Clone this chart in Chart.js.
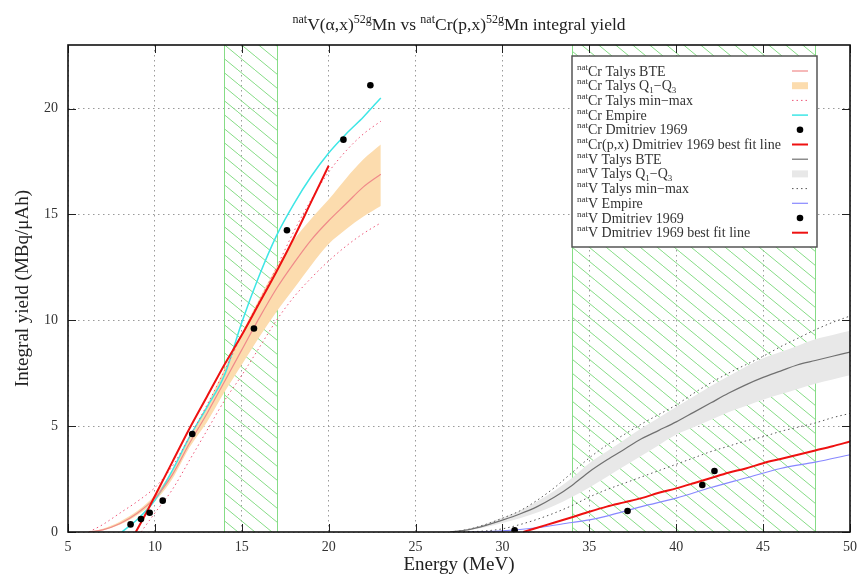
<!DOCTYPE html>
<html><head><meta charset="utf-8">
<script src="https://cdn.jsdelivr.net/npm/chart.js@4/dist/chart.umd.min.js"></script>
<style>html,body{margin:0;padding:0;background:#fff}#wrap{width:864px;height:576px;position:relative}</style>
</head><body><div id="wrap"><canvas id="c" width="864" height="576"></canvas></div>
<script>
// ---------- texts ----------
const titleText = '^{nat}V(α,x)^{52g}Mn vs ^{nat}Cr(p,x)^{52g}Mn integral yield';
const xAxisTitle = 'Energy (MeV)';
const yAxisTitle = 'Integral yield (MBq/μAh)';
const xTickValues = [5, 10, 15, 20, 25, 30, 35, 40, 45, 50];
const yTickValues = [0, 5, 10, 15, 20];
const hatchRanges = [[14, 17], [34, 48]];

// ---------- natCr(p,x) ----------
const crTalysE   = [6.2, 7, 8, 9, 10, 11, 12, 13, 14, 15, 16, 17, 18, 19, 20, 21, 22, 23];
const crTalysBTE = [0, 0.1, 0.4, 0.9, 1.6, 2.7, 4.2, 5.6, 7.1, 8.6, 10.1, 11.5, 12.7, 13.8, 14.7, 15.5, 16.3, 16.9];
const crTalysQ1  = [0, 0.08, 0.35, 0.8, 1.45, 2.5, 4.0, 5.2, 6.6, 7.9, 9.2, 10.4, 11.5, 12.6, 13.6, 14.3, 14.9, 15.4];
const crTalysQ3  = [0, 0.15, 0.5, 1.0, 1.75, 2.9, 4.5, 6.0, 7.7, 9.4, 11.0, 12.5, 13.8, 14.8, 15.7, 16.7, 17.6, 18.3];
const crTalysMax = [0, 0.35, 0.9, 1.45, 2.1, 3.1, 4.5, 6.0, 7.6, 9.3, 10.9, 12.5, 14.2, 15.7, 17.0, 18.0, 18.8, 19.4];
const crMinE     = [9.2, 10, 11, 12, 13, 14, 15, 16, 17, 18, 19, 20, 21, 22, 23];
const crTalysMin = [0, 0.9, 2.0, 3.4, 4.8, 6.2, 7.4, 8.7, 10.0, 11.1, 12.0, 12.8, 13.5, 14.1, 14.6];
const crEmpireE  = [8.1, 9, 10, 11, 12, 13, 14, 15, 16, 17, 18, 19, 20, 21, 22, 23];
const crEmpire   = [0, 0.6, 1.5, 2.9, 4.5, 5.9, 7.4, 9.9, 12.1, 14.0, 15.5, 16.8, 17.9, 18.8, 19.6, 20.5];
const crFitE     = [8.9, 9.5, 10, 11, 12, 13, 14, 15, 16, 17, 18, 19, 20];
const crFit      = [0, 0.9, 1.7, 3.3, 4.9, 6.4, 7.9, 9.3, 10.8, 12.3, 13.9, 15.6, 17.3];
const crExpE     = [8.6, 9.2, 9.7, 10.45, 12.15, 15.7, 17.6, 20.85, 22.4];
const crExp      = [0.36, 0.61, 0.91, 1.48, 4.63, 9.61, 14.25, 18.53, 21.1];

// ---------- natV(alpha,x) ----------
const vTalysE   = [27, 28, 29, 30, 31, 32, 33, 34, 35, 36, 37, 38, 39, 40, 41, 42, 43, 44, 45, 46, 47, 48, 49, 50];
const vTalysBTE = [0, 0.1, 0.3, 0.56, 0.85, 1.2, 1.65, 2.2, 2.85, 3.4, 3.9, 4.4, 4.8, 5.2, 5.65, 6.1, 6.55, 6.95, 7.3, 7.6, 7.9, 8.1, 8.3, 8.5];
const vTalysQ1  = [0, 0.07, 0.22, 0.42, 0.65, 0.92, 1.25, 1.65, 2.1, 2.6, 3.1, 3.6, 4.1, 4.6, 4.95, 5.3, 5.65, 5.95, 6.25, 6.5, 6.75, 7.0, 7.2, 7.4];
const vTalysQ3  = [0, 0.13, 0.38, 0.68, 1.0, 1.45, 1.95, 2.55, 3.25, 3.8, 4.35, 4.9, 5.4, 5.9, 6.4, 6.9, 7.35, 7.8, 8.2, 8.5, 8.8, 9.1, 9.3, 9.5];
const vTalysMax = [0, 0.12, 0.35, 0.65, 1.0, 1.5, 2.1, 2.8, 3.5, 4.1, 4.6, 5.1, 5.55, 6.0, 6.55, 7.05, 7.5, 7.9, 8.3, 8.75, 9.15, 9.55, 9.9, 10.2];
const vMinE     = [27.5, 29, 30, 31, 32, 33, 34, 35, 36, 37, 38, 39, 40, 41, 42, 43, 44, 45, 46, 47, 48, 49, 50];
const vTalysMin = [0, 0.05, 0.15, 0.35, 0.6, 0.9, 1.25, 1.65, 2.0, 2.3, 2.6, 2.9, 3.2, 3.5, 3.8, 4.05, 4.3, 4.5, 4.75, 4.95, 5.15, 5.4, 5.6];
const vEmpireE  = [28, 30, 32, 34, 35, 36, 38, 40, 42, 44, 46, 48, 50];
const vEmpire   = [0, 0.05, 0.2, 0.45, 0.57, 0.75, 1.2, 1.6, 2.1, 2.55, 3.0, 3.3, 3.65];
const vFitE     = [31.2, 32, 33, 34, 35, 36, 37, 38, 39, 40, 41, 42, 43, 44, 45, 46, 47, 48, 49, 50];
const vFit      = [0, 0.2, 0.45, 0.7, 0.96, 1.2, 1.4, 1.6, 1.85, 2.06, 2.3, 2.55, 2.8, 3.0, 3.25, 3.45, 3.65, 3.85, 4.05, 4.27];
const vExpE     = [30.7, 37.2, 41.5, 42.2];
const vExp      = [0.08, 0.99, 2.22, 2.88];

// ---------- helpers ----------
const SERIF = '"Liberation Serif", "Times New Roman", serif';
const pts = (xs, ys) => xs.map((x, i) => ({x, y: ys[i]}));

function parseRich(s) {
  const out = []; const re = /([\^_])\{([^}]*)\}/g; let last = 0, m;
  while ((m = re.exec(s))) {
    if (m.index > last) out.push({t: s.slice(last, m.index), m: 0});
    out.push({t: m[2], m: m[1] === '^' ? 1 : -1});
    last = re.lastIndex;
  }
  if (last < s.length) out.push({t: s.slice(last), m: 0});
  return out;
}
function drawRich(ctx, s, x, y, size, align, color) {
  const segs = parseRich(s);
  const small = Math.round(size * 0.66);
  let w = 0;
  for (const sg of segs) {
    ctx.font = (sg.m ? small : size) + 'px ' + SERIF;
    sg.w = ctx.measureText(sg.t).width; w += sg.w;
  }
  let cx = align === 'center' ? x - w / 2 : x;
  ctx.fillStyle = color; ctx.textBaseline = 'alphabetic'; ctx.textAlign = 'left';
  for (const sg of segs) {
    ctx.font = (sg.m ? small : size) + 'px ' + SERIF;
    const dy = sg.m === 1 ? -size * 0.42 : (sg.m === -1 ? size * 0.22 : 0);
    ctx.fillText(sg.t, cx, y + dy);
    cx += sg.w;
  }
}

function makeHatch(ctx) {
  const w = 17, h = 14;
  const c = document.createElement('canvas'); c.width = w; c.height = h;
  const g = c.getContext('2d');
  g.strokeStyle = '#86dc86'; g.lineWidth = 1;
  for (const dx of [-w, 0, w]) { g.beginPath(); g.moveTo(dx, 0); g.lineTo(dx + w, h); g.stroke(); }
  return ctx.createPattern(c, 'repeat');
}

const C = {
  crBTE: '#f08a8a', crBand: '#fcdcae', crMinMax: '#ee5577', crEmp: '#3ee6e6', fit: '#ee1111',
  vBTE: '#707070', vBand: '#e8e8e8', vMinMax: '#555555', vEmp: '#8888ff', pt: '#000000'
};

const line = (label, data, color, width, extra) => Object.assign({
  type: 'line', label, data, borderColor: color, backgroundColor: color, borderWidth: width,
  pointRadius: 0, fill: false, cubicInterpolationMode: 'monotone', order: 5
}, extra || {});
const band = (label, data, color, fill, legend) => ({
  type: 'line', label, data, borderWidth: 0, borderColor: 'rgba(0,0,0,0)', backgroundColor: color,
  pointRadius: 0, fill, cubicInterpolationMode: 'monotone', order: 10, legend
});
const scatter = (label, data) => ({
  type: 'line', label, data, showLine: false, pointRadius: 3.3, pointBackgroundColor: C.pt,
  pointBorderWidth: 0, borderColor: C.pt, backgroundColor: C.pt, order: 0, legend: 'point'
});

const datasets = [
  band('Cr Q1', pts(crTalysE, crTalysQ1), C.crBand, false, null),
  band('^{nat}Cr Talys Q_{1}−Q_{3}', pts(crTalysE, crTalysQ3), C.crBand, '-1', 'band'),
  band('V Q1', pts(vTalysE, vTalysQ1), C.vBand, false, null),
  band('^{nat}V Talys Q_{1}−Q_{3}', pts(vTalysE, vTalysQ3), C.vBand, '-1', 'band'),
  line('^{nat}Cr Talys BTE', pts(crTalysE, crTalysBTE), C.crBTE, 1.2, {legend: 'line'}),
  line('^{nat}Cr Talys min−max', pts(crTalysE, crTalysMax), C.crMinMax, 1, {borderDash: [1.5, 3], legend: 'line'}),
  line('Cr min', pts(crMinE, crTalysMin), C.crMinMax, 1, {borderDash: [1.5, 3]}),
  line('^{nat}Cr Empire', pts(crEmpireE, crEmpire), C.crEmp, 1.5, {legend: 'line'}),
  scatter('^{nat}Cr Dmitriev 1969', pts(crExpE, crExp)),
  line('^{nat}Cr(p,x) Dmitriev 1969 best fit line', pts(crFitE, crFit), C.fit, 2, {legend: 'line', order: 2}),
  line('^{nat}V Talys BTE', pts(vTalysE, vTalysBTE), C.vBTE, 1.2, {legend: 'line'}),
  line('^{nat}V Talys min−max', pts(vTalysE, vTalysMax), C.vMinMax, 1, {borderDash: [1.5, 3], legend: 'line'}),
  line('V min', pts(vMinE, vTalysMin), C.vMinMax, 1, {borderDash: [1.5, 3]}),
  line('^{nat}V Empire', pts(vEmpireE, vEmpire), C.vEmp, 1.2, {legend: 'line'}),
  scatter('^{nat}V Dmitriev 1969', pts(vExpE, vExp)),
  line('^{nat}V Dmitriev 1969 best fit line', pts(vFitE, vFit), C.fit, 2, {legend: 'line', order: 2})
];
const legendOrder = [
  '^{nat}Cr Talys BTE', '^{nat}Cr Talys Q_{1}−Q_{3}', '^{nat}Cr Talys min−max', '^{nat}Cr Empire',
  '^{nat}Cr Dmitriev 1969', '^{nat}Cr(p,x) Dmitriev 1969 best fit line',
  '^{nat}V Talys BTE', '^{nat}V Talys Q_{1}−Q_{3}', '^{nat}V Talys min−max', '^{nat}V Empire',
  '^{nat}V Dmitriev 1969', '^{nat}V Dmitriev 1969 best fit line'
];

let hatchPattern = null;
const decor = {
  id: 'decor',
  beforeDatasetsDraw(chart) {
    const {ctx, chartArea: a, scales: {x}} = chart;
    if (!hatchPattern) hatchPattern = makeHatch(ctx);
    ctx.save();
    for (const [e0, e1] of hatchRanges) {
      const x0 = Math.round(x.getPixelForValue(e0)) + 0.5, x1 = Math.round(x.getPixelForValue(e1)) + 0.5;
      ctx.fillStyle = hatchPattern;
      ctx.fillRect(x0, a.top, x1 - x0, a.bottom - a.top);
      ctx.strokeStyle = '#86dc86'; ctx.lineWidth = 1;
      ctx.beginPath(); ctx.moveTo(x0, a.top); ctx.lineTo(x0, a.bottom);
      ctx.moveTo(x1, a.top); ctx.lineTo(x1, a.bottom); ctx.stroke();
    }
    ctx.restore();
  },
  afterDraw(chart) {
    const {ctx, chartArea: a, scales: {x, y}} = chart;
    ctx.save();
    // inward ticks
    ctx.strokeStyle = '#222'; ctx.lineWidth = 1; ctx.beginPath();
    const tl = 8;
    for (const v of xTickValues) {
      const px = Math.round(x.getPixelForValue(v)) + 0.5;
      ctx.moveTo(px, a.bottom); ctx.lineTo(px, a.bottom - tl);
      ctx.moveTo(px, a.top); ctx.lineTo(px, a.top + tl);
    }
    for (const v of yTickValues) {
      const py = Math.round(y.getPixelForValue(v)) + 0.5;
      ctx.moveTo(a.left, py); ctx.lineTo(a.left + tl, py);
      ctx.moveTo(a.right, py); ctx.lineTo(a.right - tl, py);
    }
    ctx.stroke();
    // frame
    ctx.strokeStyle = '#111'; ctx.lineWidth = 1.6;
    ctx.strokeRect(a.left, a.top, a.right - a.left, a.bottom - a.top);
    // title
    drawRich(ctx, titleText, (a.left + a.right) / 2, 30, 17.5, 'center', '#222');
    // legend
    const bl = a.right - 278, br = a.right - 33, bt = a.top + 11, bb = a.top + 202;
    ctx.fillStyle = '#fff'; ctx.fillRect(bl, bt, br - bl, bb - bt);
    ctx.strokeStyle = '#555'; ctx.lineWidth = 1.5; ctx.strokeRect(bl, bt, br - bl, bb - bt);
    const rowH = 14.7;
    legendOrder.forEach((lab, i) => {
      const ds = chart.data.datasets.find(d => d.label === lab);
      const cy = bt + 15 + i * rowH;
      drawRich(ctx, lab, bl + 5, cy + 4.5, 14, 'left', '#333');
      const sx0 = br - 25, sx1 = br - 9;
      ctx.save();
      if (ds.legend === 'band') {
        ctx.fillStyle = ds.backgroundColor; ctx.fillRect(sx0, cy - 3.5, sx1 - sx0, 7);
      } else if (ds.legend === 'point') {
        ctx.fillStyle = '#000'; ctx.beginPath(); ctx.arc((sx0 + sx1) / 2, cy, 3.3, 0, Math.PI * 2); ctx.fill();
      } else {
        ctx.strokeStyle = ds.borderColor; ctx.lineWidth = ds.borderWidth;
        ctx.setLineDash(ds.borderDash || []);
        ctx.beginPath(); ctx.moveTo(sx0, cy); ctx.lineTo(sx1, cy); ctx.stroke();
      }
      ctx.restore();
    });
    ctx.restore();
  }
};

new Chart(document.getElementById('c'), {
  data: {datasets},
  plugins: [decor],
  options: {
    responsive: false, animation: false, devicePixelRatio: 1,
    layout: {padding: {top: 45, right: 14, left: 0, bottom: 0}},
    plugins: {legend: {display: false}, tooltip: {enabled: false}, title: {display: false}},
    elements: {line: {tension: 0}},
    scales: {
      x: {
        type: 'linear', min: 5, max: 50,
        afterBuildTicks: s => { s.ticks = xTickValues.map(v => ({value: v})); },
        afterFit: s => { s.height = 44; },
        grid: {color: '#9a9a9a', lineWidth: 1, drawTicks: false},
        border: {display: false, dash: [1.5, 3.5]},
        ticks: {padding: 7, color: '#333', font: {family: SERIF, size: 14}},
        title: {display: true, text: xAxisTitle, color: '#222', font: {family: SERIF, size: 19}, padding: {top: 0, bottom: 0}}
      },
      y: {
        type: 'linear', min: 0, max: 23,
        afterBuildTicks: s => { s.ticks = yTickValues.map(v => ({value: v})); },
        afterFit: s => { s.width = 68; },
        grid: {color: '#9a9a9a', lineWidth: 1, drawTicks: false},
        border: {display: false, dash: [1.5, 3.5]},
        ticks: {padding: 10, color: '#333', font: {family: SERIF, size: 14}},
        title: {display: true, text: yAxisTitle, color: '#222', font: {family: SERIF, size: 19}, padding: {top: 12, bottom: 0}}
      }
    }
  }
});
</script></body></html>
